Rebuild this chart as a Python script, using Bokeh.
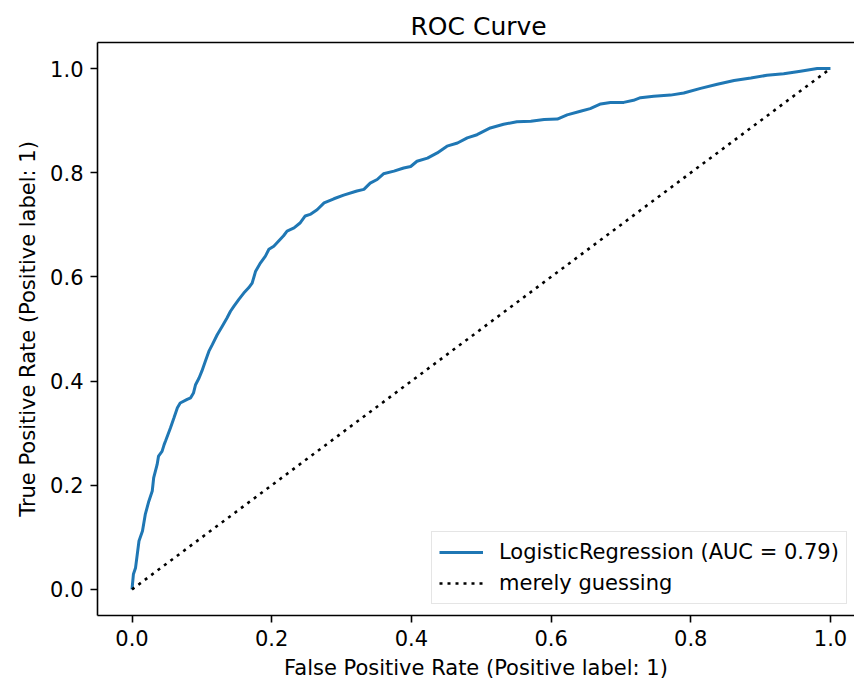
from bokeh.plotting import figure
from bokeh.models import (Range1d, FixedTicker, PrintfTickFormatter, LinearAxis,
                          Legend, LegendItem)
from bokeh.embed import file_html
from bokeh.resources import INLINE

# ---- data ----
fpr = [0.0, 0.002, 0.005, 0.010, 0.015, 0.019, 0.024, 0.029, 0.031, 0.036,
       0.038, 0.043, 0.046, 0.048, 0.055, 0.060, 0.065, 0.069, 0.079, 0.084,
       0.088, 0.091, 0.096, 0.100, 0.105, 0.110, 0.115, 0.122, 0.129, 0.136,
       0.141, 0.146, 0.153, 0.160, 0.167, 0.172, 0.177, 0.184, 0.191, 0.196,
       0.203, 0.210, 0.217, 0.222, 0.232, 0.241, 0.248, 0.255, 0.265, 0.275,
       0.289, 0.303, 0.322, 0.332, 0.341, 0.351, 0.360, 0.375, 0.389, 0.399,
       0.408, 0.423, 0.437, 0.451, 0.466, 0.480, 0.494, 0.513, 0.532, 0.551,
       0.571, 0.590, 0.609, 0.623, 0.642, 0.656, 0.671, 0.685, 0.704, 0.718,
       0.728, 0.747, 0.771, 0.790, 0.814, 0.838, 0.862, 0.886, 0.909, 0.933,
       0.957, 0.981, 1.0]
tpr = [0.0, 0.029, 0.041, 0.093, 0.112, 0.144, 0.169, 0.189, 0.214, 0.240,
       0.256, 0.265, 0.278, 0.285, 0.310, 0.329, 0.349, 0.358, 0.365, 0.368,
       0.377, 0.393, 0.406, 0.419, 0.438, 0.457, 0.470, 0.489, 0.505, 0.521,
       0.534, 0.544, 0.557, 0.569, 0.579, 0.588, 0.611, 0.627, 0.640, 0.653,
       0.659, 0.669, 0.679, 0.688, 0.694, 0.704, 0.717, 0.720, 0.729, 0.742,
       0.750, 0.757, 0.765, 0.768, 0.780, 0.787, 0.798, 0.803, 0.809, 0.812,
       0.822, 0.828, 0.838, 0.851, 0.857, 0.867, 0.873, 0.886, 0.893, 0.898,
       0.899, 0.902, 0.903, 0.911, 0.918, 0.923, 0.932, 0.935, 0.935, 0.939,
       0.944, 0.947, 0.949, 0.953, 0.962, 0.970, 0.977, 0.982, 0.987, 0.990,
       0.995, 1.000, 1.0]
guess_x = [0.0, 1.0]
guess_y = [0.0, 1.0]
ticks = [0.0, 0.2, 0.4, 0.6, 0.8, 1.0]
curve_label = "LogisticRegression (AUC = 0.79)"
guess_label = "merely guessing"

FONT = "DejaVu Sans"
FS = "21px"

p = figure(width=854, height=682, output_backend="svg", toolbar_location=None,
           x_range=Range1d(-0.0494, 1.0344), y_range=Range1d(-0.05, 1.05),
           min_border_left=97, min_border_top=42, min_border_right=0,
           min_border_bottom=67, title="ROC Curve")
p.background_fill_color = "white"
p.border_fill_color = "white"
p.outline_line_color = None
p.grid.visible = False

p.title.text_font = FONT
p.title.text_font_size = "25px"
p.title.text_font_style = "normal"
p.title.text_color = "black"
p.title.align = "left"
p.title.offset = 313
p.title.standoff = 4

r_curve = p.line(fpr, tpr, line_color="#1f77b4", line_width=3)
r_guess = p.line(guess_x, guess_y, line_color="black", line_width=2.6,
                 line_dash="3 5")

for ax in (p.xaxis[0], p.yaxis[0]):
    ax.ticker = FixedTicker(ticks=ticks)
    ax.formatter = PrintfTickFormatter(format="%.1f")
    ax.axis_line_color = "black"
    ax.axis_line_width = 1.6
    ax.major_tick_line_color = "black"
    ax.major_tick_line_width = 1.6
    ax.major_tick_out = 7
    ax.major_tick_in = 0
    ax.minor_tick_line_color = None
    ax.major_label_text_font = FONT
    ax.major_label_text_font_size = FS
    ax.major_label_text_color = "black"
    ax.major_label_standoff = 7
    ax.axis_label_text_font = FONT
    ax.axis_label_text_font_size = FS
    ax.axis_label_text_font_style = "normal"
    ax.axis_label_text_color = "black"

p.xaxis[0].axis_label = "False Positive Rate (Positive label: 1)"
p.yaxis[0].axis_label = "True Positive Rate (Positive label: 1)"
p.xaxis[0].axis_label_standoff = 7
p.yaxis[0].axis_label_standoff = 7

top = LinearAxis(ticker=FixedTicker(ticks=[]), axis_line_color="black",
                 axis_line_width=1.6, major_tick_line_color=None,
                 minor_tick_line_color=None)
p.add_layout(top, "above")

legend = Legend(items=[LegendItem(label=curve_label, renderers=[r_curve]),
                       LegendItem(label=guess_label, renderers=[r_guess])],
                location=(334, 11))
legend.label_text_font = FONT
legend.label_text_font_size = FS
legend.label_text_color = "black"
legend.glyph_width = 44
legend.glyph_height = 26
legend.label_height = 26
legend.label_standoff = 16
legend.spacing = 5
legend.padding = 7
legend.margin = 0
legend.border_line_color = "#cccccc"
legend.border_line_width = 1.5
legend.background_fill_color = "white"
legend.background_fill_alpha = 0.8
p.add_layout(legend, "center")

open("out.html", "w").write(file_html(p, INLINE))
